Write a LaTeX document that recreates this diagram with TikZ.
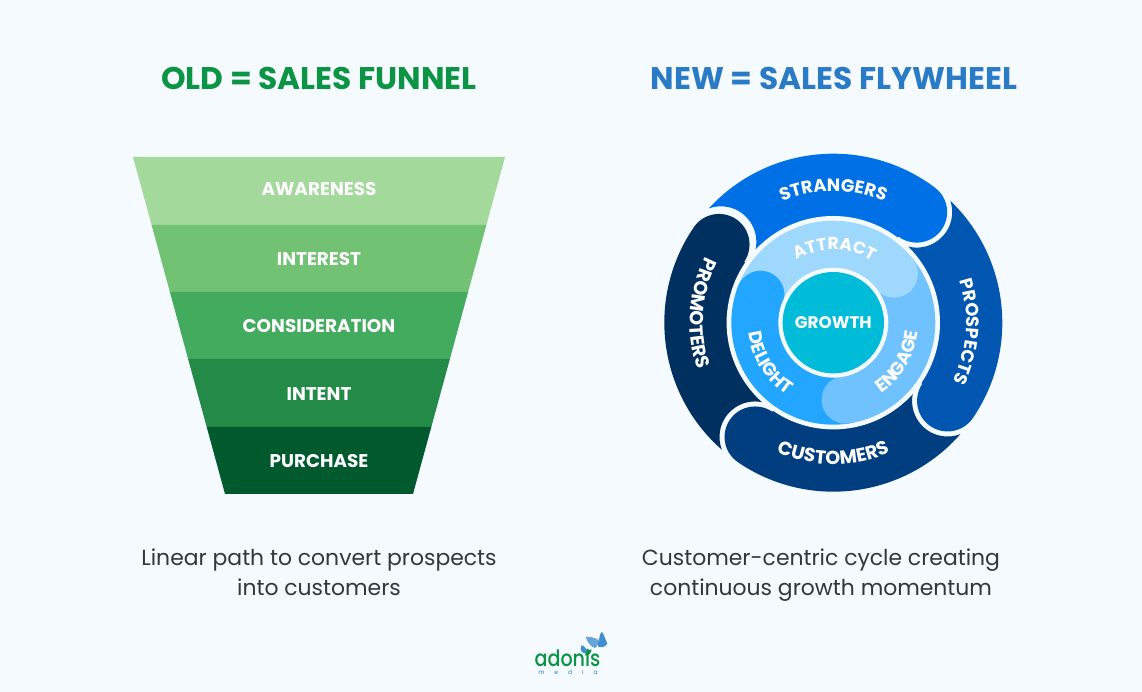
\documentclass[tikz,border=0pt]{standalone}
\usepackage{fontspec}
\setmainfont{Poppins}
\newfontfamily\popbold{Poppins}[UprightFont=* Bold]
\newfontfamily\popmed{Poppins Medium}
\usetikzlibrary{decorations.text}
\definecolor{bgc}{HTML}{F5FAFF}
\definecolor{oldgreen}{HTML}{0B9444}
\definecolor{newblue}{HTML}{2A7BC6}
\definecolor{fa}{HTML}{A3D99B}
\definecolor{fb}{HTML}{72C274}
\definecolor{fc}{HTML}{43AB5E}
\definecolor{fd}{HTML}{248A47}
\definecolor{fe}{HTML}{005A2E}
\definecolor{sa}{HTML}{0070E6}
\definecolor{sb}{HTML}{0056B0}
\definecolor{sc}{HTML}{003E80}
\definecolor{sd}{HTML}{003060}
\definecolor{ia}{HTML}{9FD8FD}
\definecolor{ib}{HTML}{70C2FF}
\definecolor{ic}{HTML}{22A6FF}
\definecolor{core}{HTML}{00BCD8}
\definecolor{captionc}{HTML}{33363B}
\definecolor{wingc}{HTML}{3F8FD0}
\tikzset{
  titletext/.style={font=\popbold\fontsize{31.3}{31.3}\selectfont,inner sep=0pt},
  captiontext/.style={font=\fontsize{21.9}{30}\selectfont,text=captionc,align=center,inner sep=0pt},
  funneltext/.style={font=\popbold\fontsize{18.4}{18.4}\selectfont,text=white,inner sep=0pt}
}
% #1 tail rotation, #2 head rotation, #3 colour
\newcommand\outerseg[3]{%
  \fill[#3] ({136.2+#1}:169) arc[start angle={136.2+#1},end angle={53+#2},radius=169]
    arc[start angle={53+#2},end angle={-127+#2},radius=30.5]
    -- ({53+#2}:106) arc[start angle={53+#2},end angle={135.3+#1},radius=106]
    -- ({135.3+#1}:107) arc[start angle={-13.3+#1},end angle={108.6+#1},radius=35.5] -- cycle;}
\newcommand\arclabel[5]{% radius, start, end, size, text
  \path[decorate,decoration={text along path,text align=center,
    text={|\popbold\fontsize{#4}{#4}\selectfont\color{white}|#5}}]
    (#2:#1) arc[start angle=#2,end angle=#3,radius=#1];}
\begin{document}
\begin{tikzpicture}[x=1pt,y=1pt]
\useasboundingbox (0,0) rectangle (1142,692);
\fill[bgc] (0,0) rectangle (1142,692);
% titles
\node[titletext,text=oldgreen] (oldtitle) at (319,614) {OLD = SALES FUNNEL};
\node[titletext,text=newblue] (newtitle) at (834,614) {NEW = SALES FLYWHEEL};
% funnel
\fill[fa] (133,535) -- (505,535) -- (486.4,467) -- (151.6,467) -- cycle;
\fill[fb] (151.6,467) -- (486.4,467) -- (468.1,400) -- (169.9,400) -- cycle;
\fill[fc] (169.9,400) -- (468.1,400) -- (449.9,333) -- (188.1,333) -- cycle;
\fill[fd] (188.1,333) -- (449.9,333) -- (431.3,265) -- (206.7,265) -- cycle;
\fill[fe] (206.7,265) -- (431.3,265) -- (413,198) -- (225,198) -- cycle;
\node[funneltext] (awareness) at (319,503) {AWARENESS};
\node[funneltext] (interest) at (319,433) {INTEREST};
\node[funneltext] (consideration) at (319,366) {CONSIDERATION};
\node[funneltext] (intent) at (319,298) {INTENT};
\node[funneltext] (purchase) at (319,231) {PURCHASE};
% captions
\node[captiontext] (oldcap) at (319,120) {Linear path to convert prospects\\into customers};
\node[captiontext] (newcap) at (821,117) {Customer-centric cycle creating\\continuous growth momentum};
% flywheel
\begin{scope}[shift={(833.3,369.3)}]
  \outerseg{1.3}{0}{sa}
  \outerseg{-90}{-87.4}{sb}
  \outerseg{-177.4}{-177.4}{sc}
  \outerseg{-267.4}{-267.4}{sd}
  \fill[bgc] (0,0) circle[radius=106.7];
  \begin{scope}
    \clip (0,0) circle[radius=102];
    \fill[ia] (0,0) -- (159:120) arc[start angle=159,end angle=39,radius=120] -- cycle;
    \fill[ib] (0,0) -- (39:120) arc[start angle=39,end angle=-81,radius=120] -- cycle;
    \fill[ic] (0,0) -- (-81:120) arc[start angle=-81,end angle=-201,radius=120] -- cycle;
    \fill[ia] (39:78) circle[radius=24];
    \fill[ib] (-81:78) circle[radius=24];
    \fill[ic] (159:78) circle[radius=24];
  \end{scope}
  \fill[bgc] (0,0) circle[radius=55];
  \fill[core] (0,0) circle[radius=50.7];
  \arclabel{131.5}{150}{30}{17.8}{STRANGERS}
  \arclabel{133}{56}{-64}{17.8}{PROSPECTS}
  \arclabel{141.5}{210}{330}{18.9}{CUSTOMERS}
  \arclabel{143.5}{116}{236}{18.9}{PROMOTERS}
  \arclabel{73}{149}{29}{17.2}{ATTRACT}
  \arclabel{85.5}{-91}{29}{18.3}{ENGAGE}
  \arclabel{85.5}{152}{272}{18.3}{DELIGHT}
  \node[font=\popbold\fontsize{16.8}{16.8}\selectfont,text=white,inner sep=0pt] (growth) at (0,0) {GROWTH};
\end{scope}
% logo
\node[font=\popmed\fontsize{22.5}{22.5}\selectfont,text=oldgreen,inner sep=0pt,xscale=.85,anchor=base] (adonis) at (567.5,25) {adonis};
\node[font=\fontsize{6}{6}\selectfont,text=newblue,inner sep=0pt,anchor=base] (media) at (568,17) {m\hspace{10pt}e\hspace{10pt}d\hspace{10pt}i\hspace{10pt}a};
\fill[wingc] (581.7,47) .. controls (586,45) and (587.5,41) .. (586.7,38.7) .. controls (582,38) and (579,42) .. (581.7,47) -- cycle;
\fill[oldgreen] (591.7,42.5) .. controls (588,42.5) and (585,40) .. (585,36.5) .. controls (589,36) and (591,39) .. (591.7,42.5) -- cycle;
\fill[wingc!80!white] (585.7,55.3) .. controls (590,55.5) and (596,54) .. (598,52) .. controls (599,49) and (597,45) .. (595,44) .. controls (591,45) and (587,50) .. (585.7,55.3) -- cycle;
\fill[wingc] (601.7,60.3) .. controls (604,58) and (605,53) .. (607.3,48.7) .. controls (606,45) and (601,44) .. (598.3,45.3) .. controls (597,48) and (598,51) .. (599.3,53.7) .. controls (599.5,56) and (600,58) .. (601.7,60.3) -- cycle;
\end{tikzpicture}
\end{document}
